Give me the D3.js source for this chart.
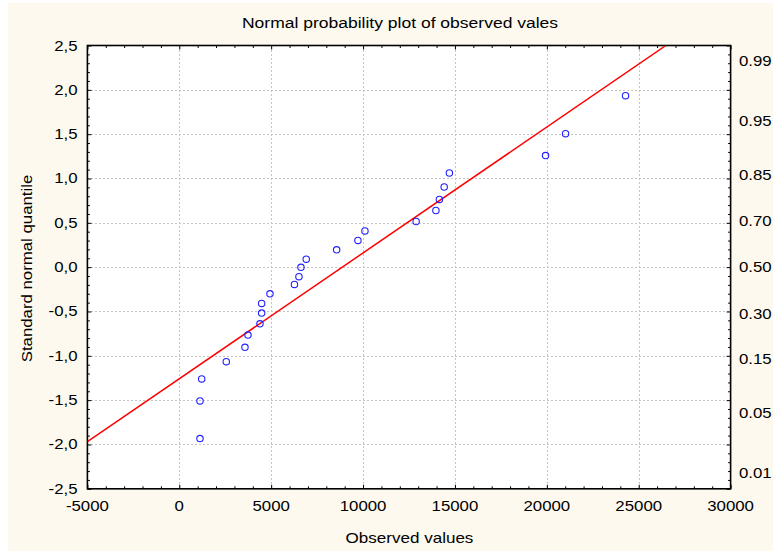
<!DOCTYPE html>
<html>
<head>
<meta charset="utf-8">
<script src="https://cdn.jsdelivr.net/npm/d3@7"></script>
<style>
  html, body { margin: 0; padding: 0; background: #ffffff; }
  svg { display: block; }
  text { font-family: "Liberation Sans", Arial, sans-serif; fill: #000; }
</style>
</head>
<body>
<svg id="chart" width="773" height="551"></svg>
<script>
// ---- data ----
const observedValues = [1126, 1126, 1219, 2557, 3574, 3737, 4390, 4482, 4482, 4934,
  6267, 6511, 6620, 6908, 8562, 9721, 10102, 12887, 13964, 14154,
  14415, 14698, 19931, 21019, 24283];
const normalQuantiles = [-1.934, -1.509, -1.261, -1.066, -0.904, -0.766, -0.639, -0.518, -0.409, -0.301,
  -0.195, -0.107, -0.002, 0.090, 0.195, 0.301, 0.409, 0.515, 0.639, 0.764,
  0.904, 1.062, 1.258, 1.506, 1.934];
const fitLineX = [-5000, 26480];
const fitLineZ = [-1.969, 2.5];
const xTickValues = [-5000, 0, 5000, 10000, 15000, 20000, 25000, 30000];
const yTickValues = [-2.5, -2.0, -1.5, -1.0, -0.5, 0.0, 0.5, 1.0, 1.5, 2.0, 2.5];
const probLabels = ["0.01", "0.05", "0.15", "0.30", "0.50", "0.70", "0.85", "0.95", "0.99"];
const probQuantiles = [-2.326, -1.645, -1.036, -0.524, 0, 0.524, 1.036, 1.645, 2.326];
const titleText = "Normal probability plot of observed vales";
const xTitle = "Observed values";
const yTitle = "Standard normal quantile";

// ---- layout ----
const svg = d3.select("#chart");
const P = { left: 87.4, right: 730.6, top: 45.5, bottom: 488.8 };
const SX = 1.2; // horizontal text stretch seen in the reference
const FS = 14;

const x = d3.scaleLinear().domain([-5000, 30000]).range([P.left, P.right]);
const y = d3.scaleLinear().domain([-2.5, 2.5]).range([P.bottom, P.top]);

const loc = d3.formatLocale({ decimal: ",", thousands: "", grouping: [3], currency: ["", ""], minus: "-" });
const fy = loc.format(".1f");
const fx = loc.format("d");

// background
svg.append("rect").attr("x", 8).attr("y", 3).attr("width", 773 - 8).attr("height", 551 - 3)
  .attr("fill", "#fdf9ee");

// plot area
svg.append("rect").attr("x", P.left).attr("y", P.top)
  .attr("width", P.right - P.left).attr("height", P.bottom - P.top).attr("fill", "#ffffff");

svg.append("defs").append("clipPath").attr("id", "clip")
  .append("rect").attr("x", P.left).attr("y", P.top)
  .attr("width", P.right - P.left).attr("height", P.bottom - P.top);

// grid
const grid = svg.append("g").attr("stroke", "#c4c4c4").attr("stroke-width", 1)
  .attr("stroke-dasharray", "2,2").attr("shape-rendering", "crispEdges");
grid.selectAll("line.v").data(xTickValues.filter(v => v > -5000 && v < 30000)).join("line")
  .attr("x1", d => Math.round(x(d)) + 0.5).attr("x2", d => Math.round(x(d)) + 0.5)
  .attr("y1", P.top).attr("y2", P.bottom);
grid.selectAll("line.h").data(yTickValues.filter(v => v > -2.5 && v < 2.5)).join("line")
  .attr("y1", d => Math.round(y(d)) + 0.5).attr("y2", d => Math.round(y(d)) + 0.5)
  .attr("x1", P.left).attr("x2", P.right);

// minor/major ticks (inward) via d3 axes
const xMinor = d3.range(-5000, 30001, 1000);
const yMinor = d3.range(-25, 26, 1).map(v => v / 10);
function tickAxis(axisFn, scale, vals, size, tx, ty) {
  const g = svg.append("g").attr("transform", `translate(${tx},${ty})`)
    .call(axisFn(scale).tickValues(vals).tickSize(size).tickFormat(""));
  g.select(".domain").remove();
  g.selectAll("line").attr("stroke", "#000").attr("stroke-width", 1);
  return g;
}
const isMajorX = v => v % 5000 === 0;
const isMajorY = v => Math.abs(Math.round(v * 10) % 5) === 0;
// bottom: ticks pointing up
tickAxis(d3.axisTop, x, xMinor.filter(v => !isMajorX(v)), 2.5, 0, P.bottom);
tickAxis(d3.axisTop, x, xMinor.filter(isMajorX), 4, 0, P.bottom);
// top: ticks pointing down
tickAxis(d3.axisBottom, x, xMinor.filter(v => !isMajorX(v)), 2.5, 0, P.top);
tickAxis(d3.axisBottom, x, xMinor.filter(isMajorX), 4, 0, P.top);
// left: ticks pointing right
tickAxis(d3.axisRight, y, yMinor.filter(v => !isMajorY(v)), 2.5, P.left, 0);
tickAxis(d3.axisRight, y, yMinor.filter(isMajorY), 4, P.left, 0);
// right: ticks pointing left
tickAxis(d3.axisLeft, y, yMinor.filter(v => !isMajorY(v)), 2.5, P.right, 0);
tickAxis(d3.axisLeft, y, yMinor.filter(isMajorY), 4, P.right, 0);

// frame
svg.append("rect").attr("x", P.left).attr("y", P.top)
  .attr("width", P.right - P.left).attr("height", P.bottom - P.top)
  .attr("fill", "none").attr("stroke", "#000").attr("stroke-width", 1.6);

// labels helper (stretched text)
function label(xp, yp, txt, anchor, size, rot) {
  const t = svg.append("text")
    .attr("transform", `translate(${xp},${yp})` + (rot ? ` rotate(${rot})` : "") + ` scale(${SX},1)`)
    .attr("text-anchor", anchor).attr("font-size", size).text(txt);
  return t;
}

// x tick labels
xTickValues.forEach(v => label(x(v), 511, fx(v), "middle", FS));
// y tick labels
yTickValues.forEach(v => label(77.5, y(v) + 5, fy(v), "end", FS));
// right probability labels
probQuantiles.forEach((z, i) => label(739, y(z) + 5, probLabels[i], "start", FS));

// titles
label(400, 28, titleText, "middle", 14.6);
label(409.5, 542.5, xTitle, "middle", 14.2);
label(31.5, 268.5, yTitle, "middle", 14, -90);

// fit line
const plotG = svg.append("g").attr("clip-path", "url(#clip)");
plotG.append("path")
  .datum(fitLineX.map((v, i) => [v, fitLineZ[i]]))
  .attr("d", d3.line().x(d => x(d[0])).y(d => y(d[1])))
  .attr("stroke", "#ff0000").attr("stroke-width", 1.5).attr("fill", "none");

// points
plotG.selectAll("circle.pt").data(observedValues.map((v, i) => [v, normalQuantiles[i]]))
  .join("circle").attr("class", "pt")
  .attr("cx", d => x(d[0])).attr("cy", d => y(d[1])).attr("r", 3.2)
  .attr("fill", "none").attr("stroke", "#2020ff").attr("stroke-width", 1.1);
</script>
</body>
</html>
